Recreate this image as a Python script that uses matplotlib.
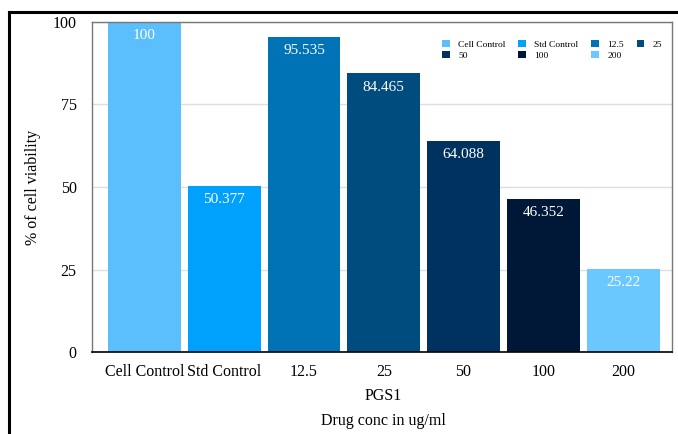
import matplotlib.pyplot as plt
from matplotlib.patches import Patch
from matplotlib.lines import Line2D

plt.rcParams['font.family'] = ['Liberation Serif', 'DejaVu Serif']

# cell viability data for PGS1
groups = ['Cell Control', 'Std Control', '12.5', '25', '50', '100', '200']
viability = [100, 50.377, 95.535, 84.465, 64.088, 46.352, 25.22]
labels = ['100', '50.377', '95.535', '84.465', '64.088', '46.352', '25.22']
colors = ['#5BBFFD', '#00A1FC', '#0073B6', '#004C7E', '#00325F', '#001838', '#6AC8FF']

W, H = 678, 434
fig = plt.figure(figsize=(W / 100, H / 100), dpi=100)
ax = fig.add_axes([92 / W, 1 - 352 / H, 580 / W, 330 / H])

x = list(range(len(groups)))
bars = ax.bar(x, viability, width=0.915, color=colors, zorder=2)

for b, lab in zip(bars, labels):
    ax.text(b.get_x() + b.get_width() / 2, b.get_height() - 2.2, lab,
            ha='center', va='top', color='white', fontsize=11)

ax.set_xlim(-0.658, 6.614)
ax.set_ylim(0, 100)
ax.set_yticks([0, 25, 50, 75, 100])
ax.set_xticks(x)
ax.set_xticklabels(groups)
ax.tick_params(axis='both', length=0, labelsize=11.5)
ax.tick_params(axis='y', pad=11)
ax.tick_params(axis='x', pad=9)
ax.yaxis.grid(True, color='#dedede', linewidth=1, zorder=0)
ax.set_axisbelow(True)

for side in ['left', 'top', 'right']:
    ax.spines[side].set_color('#777777')
    ax.spines[side].set_linewidth(1)
ax.spines['bottom'].set_color('black')
ax.spines['bottom'].set_linewidth(1.2)

fig.text(33 / W, 1 - 187 / H, '% of cell viability', rotation=90,
         ha='center', va='center', fontsize=11.5)
fig.text(383 / W, 1 - 396 / H, 'PGS1', ha='center', va='center', fontsize=11.5)
fig.text(383 / W, 1 - 421 / H, 'Drug conc in ug/ml', ha='center', va='center', fontsize=11.5)

# legend filled row by row: 4 entries on top, 3 below
order = [0, 4, 1, 5, 2, 6, 3]
handles = [Patch(facecolor=colors[i], edgecolor='none') for i in order]
ax.legend(handles, [groups[i] for i in order], ncol=4, loc='upper left',
          bbox_to_anchor=(442 / W, 1 - 40 / H), bbox_transform=fig.transFigure,
          frameon=False, fontsize=6.8, handlelength=0.8, handleheight=0.8,
          handletextpad=0.9, columnspacing=1.35, labelspacing=0.2, borderpad=0,
          borderaxespad=0)

# outer frame around the figure
fig.add_artist(Line2D([9 / W, 9 / W], [0, 1 - 12 / H], color='black', linewidth=2.2,
                      transform=fig.transFigure))
fig.add_artist(Line2D([9 / W, 1], [1 - 12 / H, 1 - 12 / H], color='black', linewidth=2.2,
                      transform=fig.transFigure))

fig.savefig('out.png', dpi=100)
